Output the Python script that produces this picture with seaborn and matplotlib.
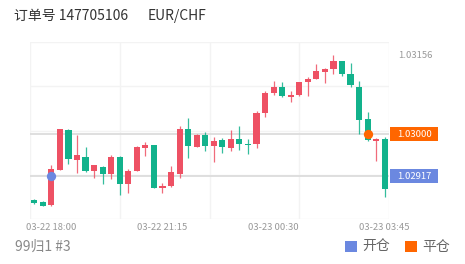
import seaborn as sns
import matplotlib.pyplot as plt
import matplotlib.patches as mpatches
import numpy as np
import pandas as pd

# EUR/CHF 15 minute candles
opens = [1.02870, 1.02866, 1.02859, 1.02929, 1.03008, 1.02949, 1.02954, 1.02927,
         1.02935, 1.02921, 1.02955, 1.02901, 1.02927, 1.02972, 1.02978, 1.02894,
         1.02897, 1.02921, 1.03010, 1.02975, 1.02998, 1.02976, 1.02988, 1.02973,
         1.02991, 1.02981, 1.02980, 1.03041, 1.03082, 1.03093, 1.03073, 1.03077,
         1.03102, 1.03109, 1.03122, 1.03128, 1.03144, 1.03118, 1.03093, 1.03030,
         1.02987, 1.02990]
closes = [1.02863, 1.02858, 1.02931, 1.03009, 1.02950, 1.02959, 1.02926, 1.02939,
          1.02920, 1.02954, 1.02901, 1.02927, 1.02975, 1.02978, 1.02894, 1.02898,
          1.02924, 1.03009, 1.02976, 1.02999, 1.02976, 1.02986, 1.02974, 1.02991,
          1.02981, 1.02978, 1.03042, 1.03082, 1.03093, 1.03075, 1.03078, 1.03102,
          1.03109, 1.03124, 1.03129, 1.03144, 1.03119, 1.03097, 1.03028, 1.02988,
          1.02991, 1.02891]
highs = [1.02871, 1.02867, 1.02939, 1.03010, 1.03010, 1.02999, 1.02975, 1.02939,
         1.02937, 1.02958, 1.02957, 1.02931, 1.02976, 1.02985, 1.02979, 1.02904,
         1.02936, 1.03016, 1.03032, 1.03001, 1.03004, 1.02995, 1.02993, 1.03007,
         1.03016, 1.02991, 1.03046, 1.03086, 1.03104, 1.03102, 1.03085, 1.03103,
         1.03112, 1.03138, 1.03131, 1.03156, 1.03145, 1.03141, 1.03105, 1.03043,
         1.02992, 1.02995]
lows = [1.02862, 1.02857, 1.02858, 1.02928, 1.02941, 1.02922, 1.02924, 1.02914,
        1.02901, 1.02911, 1.02879, 1.02883, 1.02926, 1.02957, 1.02893, 1.02883,
        1.02896, 1.02914, 1.02952, 1.02974, 1.02967, 1.02945, 1.02962, 1.02966,
        1.02969, 1.02960, 1.02973, 1.03033, 1.03078, 1.03073, 1.03063, 1.03076,
        1.03076, 1.03108, 1.03100, 1.03118, 1.03115, 1.03093, 1.03001, 1.02987,
        1.02947, 1.02875]

tick_pos = [2, 15, 28, 41]
tick_labels = ["03-22 18:00", "03-22 21:15", "03-23 00:30", "03-23 03:45"]

open_idx, open_price = 2, 1.02917
close_idx, close_price = 39, 1.03000
max_price = 1.03156

RED = "#ee5164"
GREEN = "#12b28c"
BLUE = "#6b88e0"
ORANGE = "#ff6600"

sns.set_style("white")
plt.rcParams["font.family"] = ["Noto Sans CJK SC", "DejaVu Sans"]

df = pd.DataFrame({"idx": np.arange(len(opens)), "open": opens, "close": closes,
                   "high": highs, "low": lows})
df["base"] = df[["open", "close"]].min(axis=1)
df["body"] = (df["close"] - df["open"]).abs().clip(lower=0.00002)
df["up"] = df["close"] >= df["open"]

fig = plt.figure(figsize=(4.65, 2.64), dpi=100)
ax = fig.add_axes([30 / 465, 45 / 264, 359 / 465, 177 / 264])

ylo, yhi = 1.02832, 1.03182
for f in np.linspace(0, 1, 5):
    ax.axhline(ylo + (yhi - ylo) * f, color="#f3f3f3", lw=1, zorder=0)
    ax.axvline(-0.5 + 42 * f, color="#f3f3f3", lw=1, zorder=0)
ax.axhline(close_price, color="#dcdcdc", lw=1.3, zorder=0.5)
ax.axhline(open_price, color="#dcdcdc", lw=1.3, zorder=0.5)

ax.vlines(df["idx"], df["low"], df["high"],
          colors=[RED if u else GREEN for u in df["up"]], lw=0.9, alpha=0.85, zorder=1)

up = df[df["up"]]
down = df[~df["up"]]
sns.barplot(data=up, x="idx", y="body", bottom=up["base"].values, native_scale=True,
            width=0.72, color=RED, saturation=1, errorbar=None, linewidth=0, ax=ax, zorder=2)
sns.barplot(data=down, x="idx", y="body", bottom=down["base"].values, native_scale=True,
            width=0.72, color=GREEN, saturation=1, errorbar=None, linewidth=0, ax=ax, zorder=2)

sns.scatterplot(x=[open_idx], y=[open_price], color=BLUE, s=45, linewidth=0, zorder=3, ax=ax)
sns.scatterplot(x=[close_idx], y=[close_price], color=ORANGE, s=45, linewidth=0, zorder=3, ax=ax)

ax.set_xlim(-0.5, 41.5)
ax.set_ylim(ylo, yhi)
ax.set_xticks(tick_pos)
ax.set_xticklabels(tick_labels, fontsize=6.8, color="#999999")
ax.set_yticks([])
ax.tick_params(axis="x", length=0, pad=3)
ax.set_xlabel("")
ax.set_ylabel("")
for s in ax.spines.values():
    s.set_visible(False)

# right side price labels
ytr = ax.get_yaxis_transform()
ax.text(1.025, max_price, f"{max_price:.5f}", transform=ytr, fontsize=6.8,
        color="#999999", va="center", ha="left")
box_h = 0.00028
for price, col in [(close_price, ORANGE), (open_price, BLUE)]:
    ax.add_patch(mpatches.Rectangle((1.003, price - box_h / 2), 48 / 359, box_h,
                                    transform=ytr, facecolor=col, edgecolor="none",
                                    clip_on=False))
    ax.text(1.003 + 24 / 359, price, f"{price:.5f}", transform=ytr, fontsize=6.8,
            color="white", va="center", ha="center")

fig.text(14 / 465, 1 - 16 / 264, "订单号 147705106", fontsize=10, color="#333333", va="center")
fig.text(148 / 465, 1 - 16 / 264, "EUR/CHF", fontsize=10, color="#333333", va="center")
fig.text(15 / 465, 1 - 247 / 264, "99归1 #3", fontsize=10, color="#888888", va="center")

for x0, col, lab in [(345, BLUE, "开仓"), (405, ORANGE, "平仓")]:
    fig.patches.append(mpatches.Rectangle((x0 / 465, 12 / 264), 12 / 465, 11 / 264,
                                          transform=fig.transFigure, facecolor=col,
                                          edgecolor="none"))
    fig.text((x0 + 17) / 465, 1 - 247 / 264, lab, fontsize=10, color="#666666", va="center")

fig.savefig("out.png", dpi=100)
